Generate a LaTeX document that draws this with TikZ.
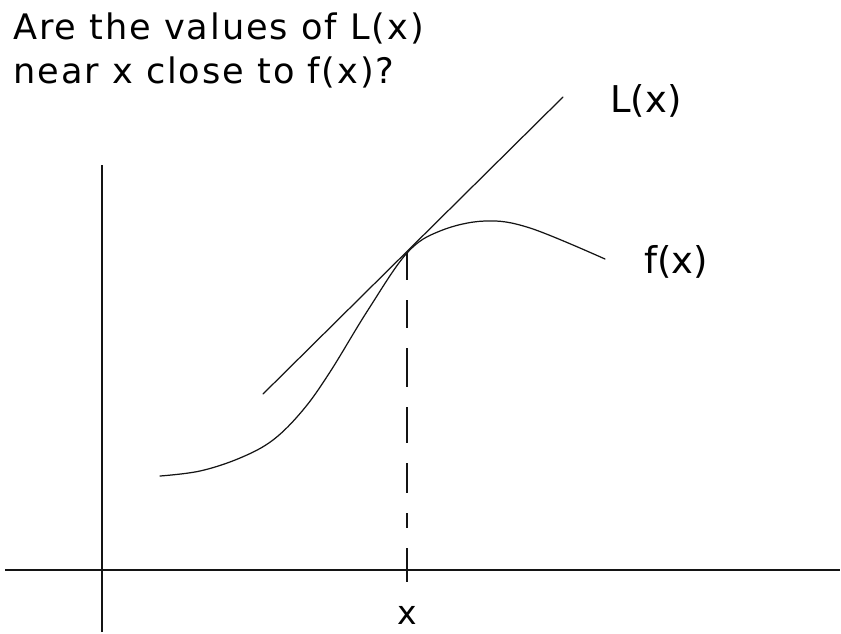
\documentclass[tikz,border=0pt]{standalone}
\usepackage{fontspec}
\setmainfont{DejaVu Sans}
\usetikzlibrary{positioning,calc}
\definecolor{inkline}{RGB}{20,20,20}

\begin{document}
\begin{tikzpicture}[x=0.02cm,y=-0.02cm,line cap=butt,
  axis/.style={inkline,line width=0.9pt},
  curve/.style={inkline,line width=0.7pt},
  guide/.style={inkline,line width=1pt},
  lbl/.style={font=\fontsize{18.8}{25}\selectfont,inner sep=0pt},
  qlbl/.style={font=\fontsize{20}{25}\selectfont\addfontfeature{LetterSpace=5.5},inner sep=0pt},
  flbl/.style={font=\fontsize{21}{25}\selectfont,inner sep=0pt}]
  \useasboundingbox (0,0) rectangle (841,633);
  % question, two lines
  \node[qlbl,anchor=base west] (qone) at (13,39) {Are the values of L(x)};
  \node[qlbl,anchor=base west] (qtwo) at (13,83) {near x close to f(x)?};
  % axes
  \coordinate (xl) at (5,570);
  \coordinate (xr) at (840,570);
  \coordinate (yb) at (102,632);
  \coordinate (yt) at (102,165);
  \draw[axis] (xl) -- (xr);
  \draw[axis] (yb) -- (yt);
  % point of tangency and dashed guide down to the axis (uneven dashes)
  \coordinate (p) at (407,253);
  \foreach \a/\b in {253/280,300/328,348/387,407/443,463/493,513/528,548/582}
    \draw[guide] ($(p)+(0,\a-253)$) -- ($(p)+(0,\b-253)$);
  % tangent line L(x)
  \coordinate (ta) at (263,394);
  \coordinate (tb) at (563,97);
  \draw[curve,line cap=round] (ta) -- (tb);
  % the function f(x)
  \draw[curve,line cap=round] plot[smooth,tension=0.6] coordinates
    {(160,476) (200,471) (240,458) (273,440) (303,410) (330,372)
     (368,310) (407,253) (440,231) (485,221) (530,228) (605,259)};
  % labels
  \node[flbl,anchor=base west] (Llab) at (610,112) {L(x)};
  \node[flbl,anchor=base west] (flab) at (644,273) {f(x)};
  \node[lbl] (xlab) at (407,615) {x};
\end{tikzpicture}
\end{document}
